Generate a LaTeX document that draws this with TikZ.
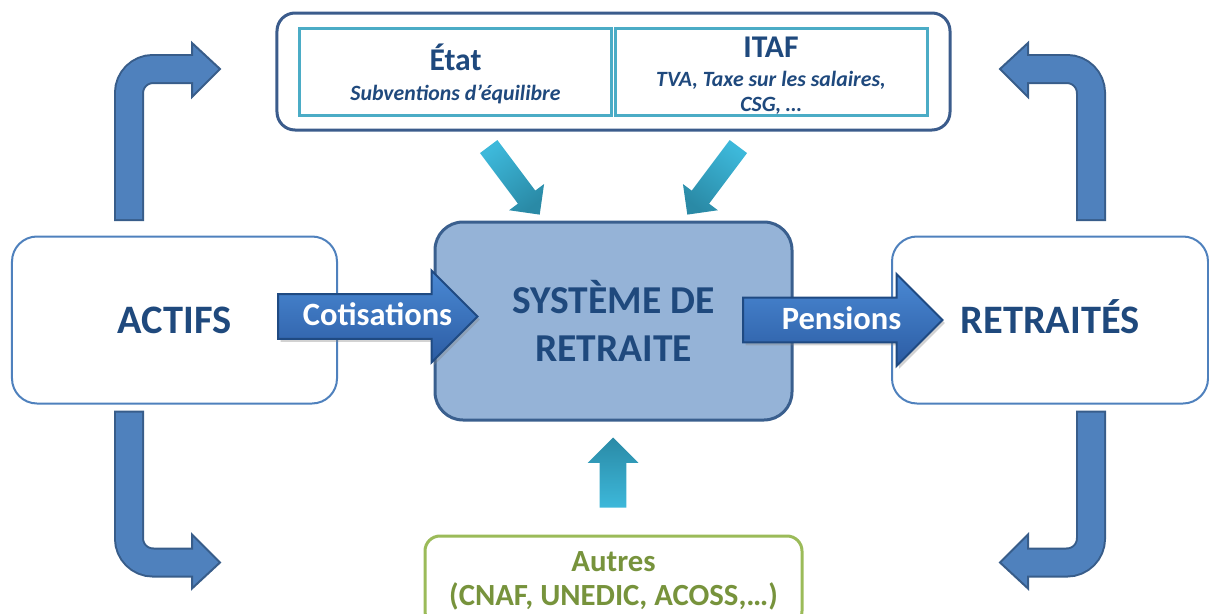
\documentclass[tikz,border=0pt]{standalone}
\usepackage{fontspec}
\setmainfont{Carlito}
\usetikzlibrary{arrows.meta,positioning,shapes.arrows,shadows,fit,calc}
\definecolor{ink}{HTML}{1F497D}
\definecolor{frame}{HTML}{3B5C8C}
\definecolor{tealrim}{HTML}{4BACC6}
\definecolor{tealhi}{HTML}{3DB8DA}
\definecolor{tealdk}{HTML}{2A8AA6}
\definecolor{sky}{HTML}{4F81BD}
\definecolor{skydk}{HTML}{385D8A}
\definecolor{core}{HTML}{95B3D7}
\definecolor{corerim}{HTML}{3A5F8E}
\definecolor{flowtop}{HTML}{4A89D4}
\definecolor{flowbot}{HTML}{2C5CA3}
\definecolor{flowrim}{HTML}{1F4A82}
\definecolor{greenrim}{HTML}{9BBB59}
\definecolor{greentext}{HTML}{77933C}
\tikzset{
  party/.style={draw=sky, line width=0.4mm, rounded corners=5mm, fill=white, minimum height=33.4mm, text height=14.8pt, text depth=0pt, font=\fontsize{23}{27}\selectfont\bfseries, text=ink},
  core/.style={draw=corerim, line width=0.6mm, rounded corners=5.6mm, fill=core, minimum width=71.4mm, minimum height=39.6mm, align=center, font=\fontsize{22.5}{27}\selectfont\bfseries, text=ink},
  fund/.style={draw=tealrim, line width=0.6mm, minimum height=17.4mm},
  fundtext/.style={align=center, text=ink, font=\fontsize{12.4}{14}\selectfont\bfseries\itshape},
  funds/.style={draw=frame, line width=0.6mm, rounded corners=3.6mm, inner xsep=4.3mm, inner ysep=2.7mm},
  other/.style={draw=greenrim, line width=0.6mm, rounded corners=3mm, fill=white, minimum width=75.4mm, minimum height=18mm, align=center, text=greentext, font=\fontsize{17.5}{19}\selectfont\bfseries},
  flow/.style={single arrow, single arrow head extend=4.7mm, draw=flowrim, line width=0.4mm, top color=flowtop, bottom color=flowbot, text=white, inner sep=0pt, text width=35mm, align=center, text height=17.6pt, text depth=6.8pt, font=\fontsize{18.5}{20}\selectfont\bfseries, drop shadow={opacity=0.35, shadow xshift=0.5mm, shadow yshift=-0.6mm}},
  feed/.style={single arrow, draw=none, inner xsep=0pt, text height=0pt, text depth=0pt, top color=tealdk, bottom color=tealhi},
  bentedge/.style={draw=skydk, line width=6mm, rounded corners=4.8mm},
  bentbody/.style={draw=sky, line width=5.2mm, rounded corners=4.8mm},
  benthead/.style={fill=sky, draw=skydk, line width=0.4mm, line join=miter}
}
\begin{document}
\begin{tikzpicture}[x=0.2mm, y=-0.2mm]
\useasboundingbox (0,0) rectangle (1209,614);
\foreach \mx/\my/\dx/\dy in {1/1/0/0, -1/1/1220/0, 1/-1/0/631.5, -1/-1/1220/631.5}{
  \begin{scope}[shift={(\dx,\dy)}, xscale=\mx, yscale=\my]
    \draw[bentedge] (129,221) -- (129,69) -- (193,69);
    \draw[benthead] (192,43) -- (220,69) -- (192,97) -- cycle;
    \draw[bentbody] (129,219) -- (129,69) -- (195,69);
  \end{scope}
}
\node[fund, minimum width=62.2mm] (etat) at (455.5,71.5) {};
\node[fund, minimum width=62.4mm] (itaf) at (771,71.5) {};
\node[fundtext] (etattext) at (455.5,74) {{\fontsize{18}{20}\selectfont\upshape État}\\[3pt]Subventions d’équilibre};
\node[fundtext] (itaftext) at (771,75.5) {{\fontsize{18}{20}\selectfont\upshape ITAF}\\[3pt]TVA, Taxe sur les salaires,\\CSG, …};
\node[funds, fit=(etat)(itaf)] (fonds) {};
\node[party, minimum width=65mm] (actifs) at (174.5,320) {ACTIFS};
\node[party, minimum width=63.2mm] (retraites) at (1050,320) {RETRAITÉS};
\node[core] (systeme) at (613.5,321) {SYSTÈME DE\\RETRAITE};
\node[flow, anchor=tail] (cotisations) at (277,316.5) {\hspace*{4.4mm}Cotisations};
\node[flow, anchor=tail] (pensions) at (742,320) {\hspace*{4mm}Pensions};
\node[feed, inner ysep=2.1mm, single arrow head extend=2.2mm, text width=14.7mm, rotate=-53.13, shading angle=-143.13, anchor=tip] (feedetat) at (540,215) {};
\node[feed, inner ysep=2.1mm, single arrow head extend=2.2mm, text width=14.7mm, rotate=-126.87, shading angle=143.13, anchor=tip] (feeditaf) at (687,215) {};
\node[feed, inner ysep=2.6mm, single arrow head extend=2.4mm, text width=11.2mm, rotate=90, anchor=tip] (feedautres) at (613,437) {};
\node[other] (autres) at (613.5,581) {Autres\\(CNAF, UNEDIC, ACOSS,…)};
\end{tikzpicture}
\end{document}
